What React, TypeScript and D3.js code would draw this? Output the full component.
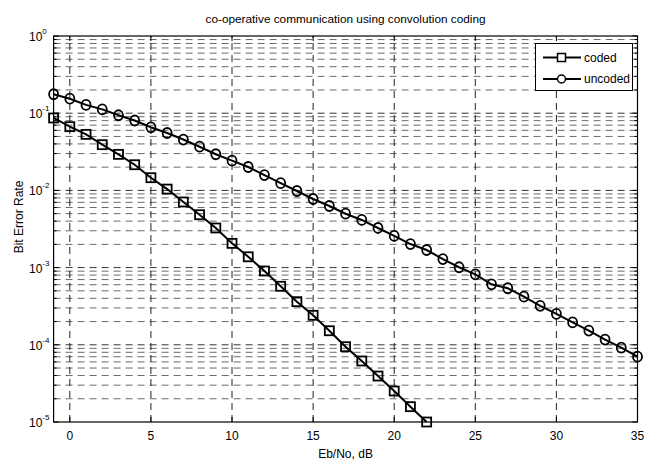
import { useEffect, useRef } from "react"
import * as d3 from "d3"

const codedX = d3.range(-1, 23)
const codedBer = [
  0.0867, 0.0669, 0.0532, 0.0391, 0.0293, 0.0215, 0.0146, 0.0104, 0.00708, 0.00484,
  0.00326, 0.00206, 0.00138, 0.000904, 0.000573, 0.000362, 0.000241, 0.000152,
  9.45e-5, 6.17e-5, 3.94e-5, 2.52e-5, 1.58e-5, 1.0e-5,
]
const uncodedX = d3.range(-1, 36)
const uncodedBer = [
  0.176, 0.154, 0.128, 0.112, 0.094, 0.0804, 0.0657, 0.0554, 0.0456, 0.0368, 0.0294,
  0.0243, 0.0201, 0.0158, 0.0124, 0.00982, 0.00774, 0.00628, 0.00499, 0.00414, 0.00326,
  0.00257, 0.00202, 0.00169, 0.00129, 0.00101, 0.000819, 0.000608, 0.00054, 0.00042,
  0.00032, 0.000251, 0.000195, 0.000153, 0.000117, 9.17e-5, 7.01e-5,
]
const xTicks = [0, 5, 10, 15, 20, 25, 30, 35]
const yExponents = [-5, -4, -3, -2, -1, 0]
const seriesNames = ["coded", "uncoded"]

const App = () => {
  const svgRef = useRef<SVGSVGElement | null>(null)

  useEffect(() => {
    const width = 645
    const height = 460
    const margin = { top: 36, right: 7.5, bottom: 38, left: 53.6 }
    const font = "'Liberation Sans', Arial, sans-serif"

    const svg = d3.select(svgRef.current)
    svg.selectAll("*").remove()
    svg.attr("width", width).attr("height", height)

    const x = d3.scaleLinear().domain([-1, 35]).range([margin.left, width - margin.right])
    const y = d3.scaleLog().domain([1e-5, 1]).range([height - margin.bottom, margin.top])
    const [x0, x1] = x.range()
    const [y0, y1] = y.range()

    svg.append("rect").attr("width", width).attr("height", height).attr("fill", "white")

    // minor + major horizontal grid
    const minor: number[] = []
    yExponents.slice(0, -1).forEach((e) => {
      for (let m = 2; m <= 9; m++) minor.push(m * Math.pow(10, e))
    })
    const grid = svg.append("g").attr("fill", "none").attr("stroke-dasharray", "7,5")
    grid
      .selectAll(".minor")
      .data(minor)
      .enter()
      .append("line")
      .attr("x1", x0)
      .attr("x2", x1)
      .attr("y1", (d) => y(d))
      .attr("y2", (d) => y(d))
      .attr("stroke", "#6a6a6a")
      .attr("stroke-width", 1)
    grid
      .selectAll(".major")
      .data(yExponents.slice(1, -1))
      .enter()
      .append("line")
      .attr("x1", x0)
      .attr("x2", x1)
      .attr("y1", (d) => y(Math.pow(10, d)))
      .attr("y2", (d) => y(Math.pow(10, d)))
      .attr("stroke", "#333")
      .attr("stroke-width", 1)
    grid
      .selectAll(".vgrid")
      .data(xTicks.filter((t) => t < 35))
      .enter()
      .append("line")
      .attr("x1", (d) => x(d))
      .attr("x2", (d) => x(d))
      .attr("y1", y0)
      .attr("y2", y1)
      .attr("stroke", "#222")
      .attr("stroke-width", 1)

    // ticks (inward)
    const ticks = svg.append("g").attr("stroke", "black").attr("stroke-width", 1)
    xTicks.forEach((t) => {
      ticks.append("line").attr("x1", x(t)).attr("x2", x(t)).attr("y1", y0).attr("y2", y0 - 5)
      ticks.append("line").attr("x1", x(t)).attr("x2", x(t)).attr("y1", y1).attr("y2", y1 + 5)
    })
    yExponents.forEach((e) => {
      const v = y(Math.pow(10, e))
      ticks.append("line").attr("x1", x0).attr("x2", x0 + 5).attr("y1", v).attr("y2", v)
      ticks.append("line").attr("x1", x1).attr("x2", x1 - 5).attr("y1", v).attr("y2", v)
    })
    minor.forEach((m) => {
      const v = y(m)
      ticks.append("line").attr("x1", x0).attr("x2", x0 + 3).attr("y1", v).attr("y2", v)
      ticks.append("line").attr("x1", x1).attr("x2", x1 - 3).attr("y1", v).attr("y2", v)
    })

    // axes box
    svg
      .append("rect")
      .attr("x", x0)
      .attr("y", y1)
      .attr("width", x1 - x0)
      .attr("height", y0 - y1)
      .attr("fill", "none")
      .attr("stroke", "black")
      .attr("stroke-width", 1.2)

    // tick labels
    svg
      .append("g")
      .selectAll("text")
      .data(xTicks)
      .enter()
      .append("text")
      .attr("x", (d) => x(d))
      .attr("y", y0 + 18)
      .attr("text-anchor", "middle")
      .attr("font-family", font)
      .attr("font-size", 12)
      .text((d) => d)

    const yl = svg
      .append("g")
      .selectAll("text")
      .data(yExponents)
      .enter()
      .append("text")
      .attr("x", 29)
      .attr("y", (d) => y(Math.pow(10, d)) + 5)
      .attr("font-family", font)
      .attr("font-size", 12)
    yl.append("tspan").text("10")
    yl.append("tspan")
      .attr("dy", -7)
      .attr("font-size", 8)
      .text((d) => d)

    // lines + markers
    const line = d3
      .line<[number, number]>()
      .x((d) => x(d[0]))
      .y((d) => y(d[1]))
    const coded = codedX.map((v, i) => [v, codedBer[i]] as [number, number])
    const uncoded = uncodedX.map((v, i) => [v, uncodedBer[i]] as [number, number])

    const plot = svg.append("g")
    ;[coded, uncoded].forEach((s) => {
      plot
        .append("path")
        .attr("d", line(s))
        .attr("fill", "none")
        .attr("stroke", "black")
        .attr("stroke-width", 2)
    })
    plot
      .selectAll(".sq")
      .data(coded)
      .enter()
      .append("rect")
      .attr("x", (d) => x(d[0]) - 4.5)
      .attr("y", (d) => y(d[1]) - 4.5)
      .attr("width", 9)
      .attr("height", 9)
      .attr("fill", "none")
      .attr("stroke", "black")
      .attr("stroke-width", 1.8)
    plot
      .selectAll(".ci")
      .data(uncoded)
      .enter()
      .append("ellipse")
      .attr("cx", (d) => x(d[0]))
      .attr("cy", (d) => y(d[1]))
      .attr("rx", 4.5)
      .attr("ry", 5)
      .attr("fill", "none")
      .attr("stroke", "black")
      .attr("stroke-width", 1.8)

    // legend
    const lg = svg.append("g")
    lg.append("rect")
      .attr("x", 535.5)
      .attr("y", 43.5)
      .attr("width", 97)
      .attr("height", 47)
      .attr("fill", "white")
      .attr("stroke", "black")
      .attr("stroke-width", 1)
    seriesNames.forEach((name, i) => {
      const ly = 57.5 + i * 21.5
      lg.append("line")
        .attr("x1", 543)
        .attr("x2", 581)
        .attr("y1", ly)
        .attr("y2", ly)
        .attr("stroke", "black")
        .attr("stroke-width", 2)
      if (i === 0) {
        lg.append("rect")
          .attr("x", 557.5)
          .attr("y", ly - 4)
          .attr("width", 8)
          .attr("height", 8)
          .attr("fill", "white")
          .attr("stroke", "black")
          .attr("stroke-width", 1.5)
      } else {
        lg.append("circle")
          .attr("cx", 561.5)
          .attr("cy", ly)
          .attr("r", 4)
          .attr("fill", "white")
          .attr("stroke", "black")
          .attr("stroke-width", 1.5)
      }
      lg.append("text")
        .attr("x", 584)
        .attr("y", ly + 4)
        .attr("font-family", font)
        .attr("font-size", 12)
        .text(name)
    })

    // titles
    svg
      .append("text")
      .attr("x", (x0 + x1) / 2)
      .attr("y", 23)
      .attr("text-anchor", "middle")
      .attr("font-family", font)
      .attr("font-size", 11.8)
      .text("co-operative communication using convolution coding")
    svg
      .append("text")
      .attr("x", (x0 + x1) / 2)
      .attr("y", 458)
      .attr("text-anchor", "middle")
      .attr("font-family", font)
      .attr("font-size", 12)
      .text("Eb/No, dB")
    svg
      .append("text")
      .attr("transform", `translate(23,217) rotate(-90)`)
      .attr("text-anchor", "middle")
      .attr("font-family", font)
      .attr("font-size", 12)
      .text("Bit Error Rate")
  }, [])

  return <svg ref={svgRef} style={{ position: "absolute", left: 0, top: 0 }}></svg>
}

export default App
